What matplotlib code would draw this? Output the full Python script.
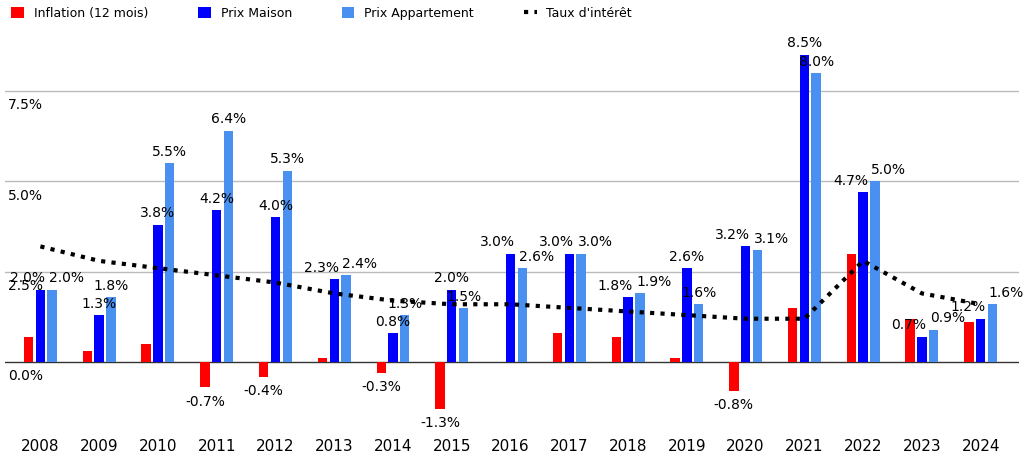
import matplotlib.pyplot as plt
import numpy as np

years = ["2008","2009","2010","2011","2012","2013","2014","2015","2016","2017","2018","2019","2020","2021","2022","2023","2024"]
inflation = [0.7,0.3,0.5,-0.7,-0.4,0.1,-0.3,-1.3,0.0,0.8,0.7,0.1,-0.8,1.5,3.0,1.2,1.1]
maison = [2.0,1.3,3.8,4.2,4.0,2.3,0.8,2.0,3.0,3.0,1.8,2.6,3.2,8.5,4.7,0.7,1.2]
appart = [2.0,1.8,5.5,6.4,5.3,2.4,1.3,1.5,2.6,3.0,1.9,1.6,3.1,8.0,5.0,0.9,1.6]
taux = [3.2,2.8,2.6,2.4,2.2,1.9,1.7,1.6,1.6,1.5,1.4,1.3,1.2,1.2,2.8,1.9,1.6]
yticks = [0.0,2.5,5.0,7.5]

fig = plt.figure(figsize=(10.24,4.54),dpi=100)
ax = fig.add_axes([0.005,0.075,0.99,0.86])
x = np.arange(len(years))
w = 0.16
h1 = ax.bar(x-0.2,inflation,w,color="#ff0000",label="Inflation (12 mois)",zorder=3)
h2 = ax.bar(x,maison,w,color="#0000ff",label="Prix Maison",zorder=3)
h3 = ax.bar(x+0.2,appart,w,color="#4a90f0",label="Prix Appartement",zorder=3)
h4, = ax.plot(x,taux,color="black",ls=(0,(1,1.5)),lw=3,label="Taux d'intérêt",zorder=4)
for i in x:
    close = abs(maison[i]-appart[i]) < 0.45
    if close:
        ax.text(i+0.08,maison[i]+0.12,f"{maison[i]:.1f}%",ha="right",va="bottom",fontsize=10,zorder=5)
        ax.text(i+0.14,appart[i]+0.12,f"{appart[i]:.1f}%",ha="left",va="bottom",fontsize=10,zorder=5)
    else:
        ax.text(i,maison[i]+0.12,f"{maison[i]:.1f}%",ha="center",va="bottom",fontsize=10,zorder=5)
        ax.text(i+0.2,appart[i]+0.12,f"{appart[i]:.1f}%",ha="center",va="bottom",fontsize=10,zorder=5)
    if inflation[i] < 0:
        ax.text(i-0.2,inflation[i]-0.2,f"{inflation[i]:.1f}%",ha="center",va="top",fontsize=10,zorder=5)
ax.set_ylim(-1.6,9.2)
ax.set_xlim(-0.6,len(years)-0.35)
for t in yticks:
    ax.axhline(t,color="#bbbbbb" if t else "#333333",lw=1,zorder=1)
    ax.text(-0.55,t-0.2,f"{t:.1f}%",ha="left",va="top",fontsize=10)
ax.set_yticks([])
ax.set_xticks(x)
ax.set_xticklabels(years,fontsize=11)
ax.tick_params(axis="x",length=0,pad=14)
for s in ax.spines.values():
    s.set_visible(False)
fig.legend([h1,h2,h3,h4],["Inflation (12 mois)","Prix Maison","Prix Appartement","Taux d'intérêt"],
           loc="upper left",bbox_to_anchor=(0.0,1.01),ncol=4,frameon=False,fontsize=9,
           handlelength=1.0,handleheight=1.0,columnspacing=4)
fig.savefig("out.png")
